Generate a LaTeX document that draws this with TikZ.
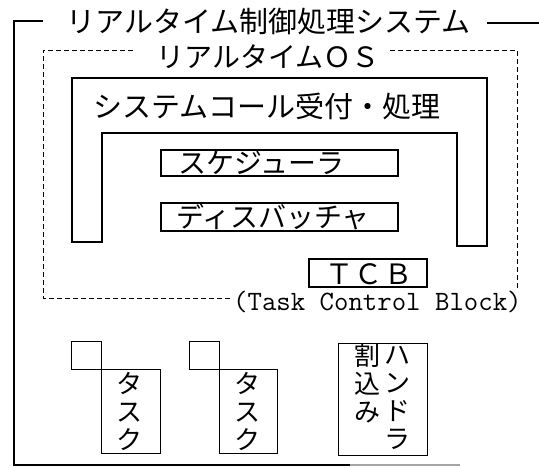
\documentclass[tikz,border=0pt]{standalone}
\usepackage{fontspec}
\newfontfamily\jp{Noto Sans CJK JP}
\begin{document}
\begin{tikzpicture}[x=1pt,y=-1pt,
  frameline/.style={line width=2.6pt},
  dashline/.style={line width=1pt, dash pattern=on 5pt off 3pt},
  uline/.style={line width=1.8pt, line join=miter},
  kbox/.style={draw, line width=1.6pt, inner sep=0pt, outer sep=0pt},
  tbox/.style={draw, line width=1pt, inner sep=0pt, outer sep=0pt},
  jtA/.style={font=\jp\fontsize{29}{29}\selectfont, inner sep=0pt, text height=25.5pt, text depth=3.5pt},
  jtB/.style={font=\jp\fontsize{28}{28}\selectfont, inner sep=0pt, text height=24.6pt, text depth=3.4pt},
  jtV/.style={font=\jp\fontsize{26}{28}\selectfont, inner sep=0pt, align=center},
  ttB/.style={font=\ttfamily\fontsize{28}{28}\selectfont, inner sep=0pt}
]
\useasboundingbox (0,0) rectangle (539,467);

% outer frame
\node[jtA] (title) at (268.5,21) {リアルタイム制御処理システム};
\draw[frameline] (43,21) -- (14,21) -- (14,465) -- (350,465);
\draw[frameline, black!35] (350,465) -- (460,465);
\draw[frameline] (487,23) -- (539,23);

% RTOS dashed box
\node[jtB] (rtos) at (268,57) {リアルタイムＯＳ};
\node[ttB, anchor=base west] (tcbname) at (233,310) {(Task Control Block)};
\draw[dashline] (133,50) -- (43,50) -- (43,298) -- (233,298);
\draw[dashline] (390,50) -- (517,50) -- (517,288);

% system call U-shape
\draw[uline] (72,78) -- (487,78) -- (487,246) -- (457,246) -- (457,133)
  -- (102,133) -- (102,242) -- (72,242) -- cycle;
\node[jtA] (syscall) at (267,106) {システムコール受付・処理};

% scheduler, dispatcher, TCB
\node[kbox, minimum width=237pt, minimum height=26pt] (sched) at (279.5,163) {};
\node[jtB, anchor=west] (schedtxt) at (178,163) {スケジューラ};
\node[kbox, minimum width=237pt, minimum height=28pt] (disp) at (279.5,217) {};
\node[jtB, anchor=west] (disptxt) at (176,217) {ディスバッチャ};
\node[kbox, minimum width=118pt, minimum height=28pt] (tcb) at (368,273) {};
\node[jtB] (tcbtxt) at (369,274) {Ｔ\kern2ptＣ\kern2ptＢ};

% tasks
\node[tbox, minimum width=30pt, minimum height=28pt] (t1sq) at (86,355) {};
\node[tbox, minimum width=59pt, minimum height=84pt] (t1) at (130.5,411) {};
\node[jtV] (t1txt) at (129.5,411) {タ\\ス\\ク};
\node[tbox, minimum width=30pt, minimum height=28pt] (t2sq) at (204,355) {};
\node[tbox, minimum width=58pt, minimum height=84pt] (t2) at (248,411) {};
\node[jtV] (t2txt) at (247,411) {タ\\ス\\ク};

% interrupt handler
\node[tbox, minimum width=89pt, minimum height=112pt] (hand) at (382.5,399) {};
\node[jtV, anchor=north] (handL) at (367,344) {割\\込\\み};
\node[jtV, anchor=north] (handR) at (397,346) {ハ\\ン\\ド\\ラ};
\end{tikzpicture}
\end{document}
